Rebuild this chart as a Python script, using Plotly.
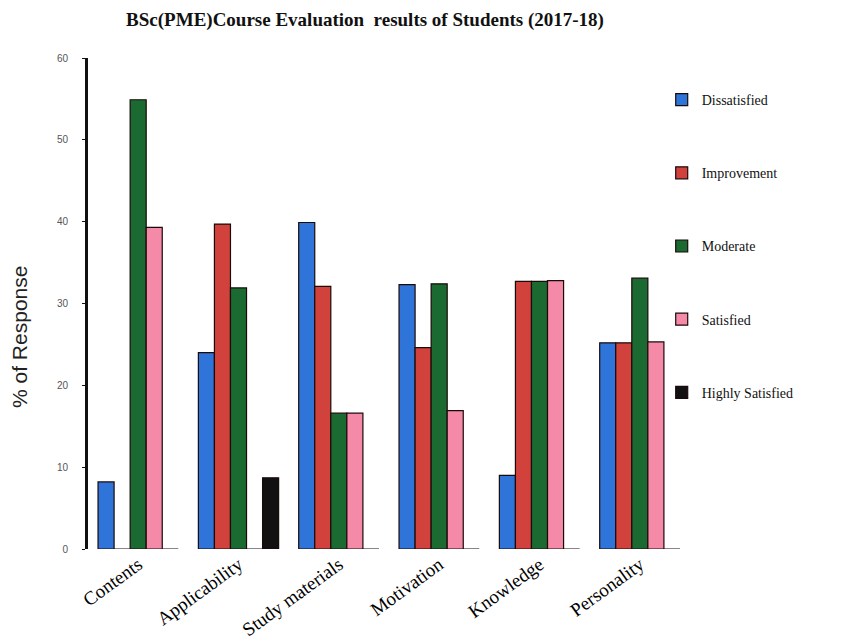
import plotly.graph_objects as go

categories = ["Contents", "Applicability", "Study materials", "Motivation", "Knowledge", "Personality"]
dissatisfied = [8.2, 24.0, 39.9, 32.3, 9.0, 25.2]
improvement = [0, 39.7, 32.1, 24.6, 32.7, 25.2]
moderate = [54.9, 31.9, 16.6, 32.4, 32.7, 33.1]
satisfied = [39.3, 0, 16.6, 16.9, 32.8, 25.3]
highly_satisfied = [0, 8.7, 0, 0, 0, 0]

series = [
    ("Dissatisfied", dissatisfied, "#2f74d8"),
    ("Improvement", improvement, "#d2423c"),
    ("Moderate", moderate, "#1b6a32"),
    ("Satisfied", satisfied, "#f58aa8"),
    ("Highly Satisfied", highly_satisfied, "#111111"),
]

fig = go.Figure()
for name, vals, col in series:
    fig.add_trace(go.Bar(
        x=categories, y=vals, name=name, legendgroup=name,
        marker=dict(color=col, line=dict(color="#1a0a0a", width=1.2)),
    ))

fig.update_layout(
    width=842, height=631,
    paper_bgcolor="white", plot_bgcolor="white",
    barmode="group", bargap=0.2, bargroupgap=0,
    margin=dict(l=80, r=160, t=50, b=90, autoexpand=False),
    title=dict(text="<b>BSc(PME)Course Evaluation  results of Students (2017-18)</b>",
               x=0.424, xanchor="center", y=0.982, yanchor="middle",
               font=dict(family="Liberation Serif", size=19, color="#111")),
    font=dict(family="Liberation Serif", color="#111"),
    legend=dict(x=0.953, xanchor="left", y=0.947, yanchor="top",
                tracegroupgap=52, font=dict(family="Liberation Serif", size=14, color="#111"),
                itemwidth=30, bgcolor="rgba(0,0,0,0)"),
    showlegend=True,
    annotations=[dict(text="% of Response", textangle=-90, xref="paper", yref="paper",
                      x=(19 - 88) / 602, y=1 - (337 - 58) / 491, xanchor="center", yanchor="middle",
                      showarrow=False, font=dict(family="Liberation Sans", size=21, color="#222"))],
)
fig.update_yaxes(range=[0, 60], dtick=10, showgrid=False, zeroline=False,
                 showline=True, linecolor="#111", linewidth=3,
                 ticks="outside", ticklen=3, tickcolor="#111", ticklabelstandoff=12,
                 tickfont=dict(family="Liberation Sans", size=10, color="#555"))
fig.update_xaxes(showgrid=False, showline=False, ticks="", tickangle=-36,
                 tickfont=dict(family="Liberation Serif", size=19, color="#000"))

fig.write_html("out.html")
